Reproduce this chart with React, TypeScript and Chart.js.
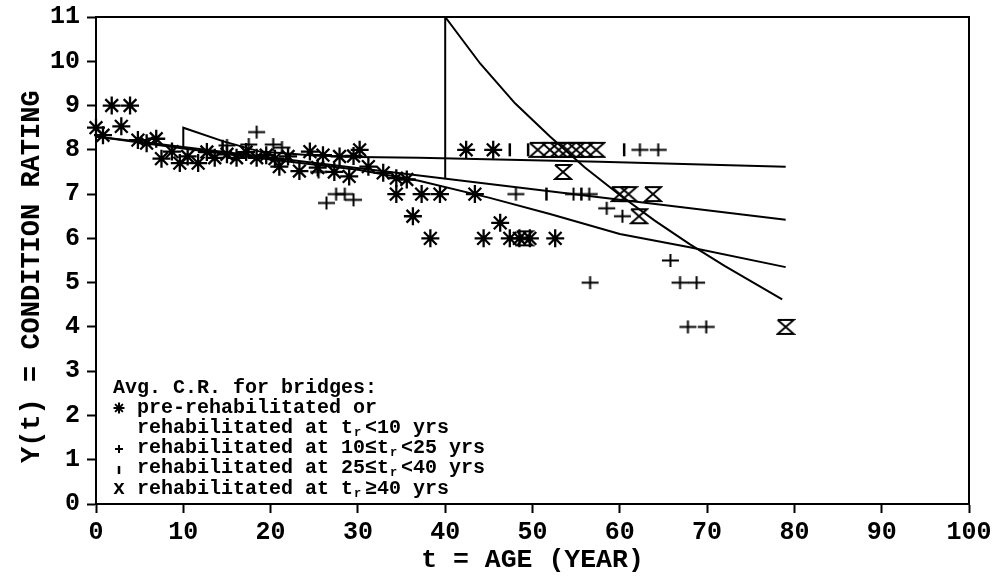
import React, { useEffect, useRef } from "react";
import { Chart, registerables } from "chart.js";

Chart.register(...registerables);

// ---- axis ranges / ticks ----
const xRange = [0, 100];
const xStep = 10;
const yRange = [0, 11];
const yStep = 1;

// ---- observed average condition ratings (age, rating) ----
const preRehabStars: [number, number][] = [
  [0, 8.5], [0.8, 8.33], [1.8, 9.0], [2.9, 8.53], [3.9, 9.0], [4.8, 8.22], [5.8, 8.15],
  [6.9, 8.25], [7.5, 7.8], [8.7, 7.96], [9.6, 7.7], [10.5, 7.85], [11.7, 7.7], [12.7, 7.95],
  [13.6, 7.82], [15, 7.9], [16.1, 7.82], [17.2, 7.95], [18.4, 7.82], [19.5, 7.88], [20.5, 7.8],
  [21, 7.62], [22, 7.85], [23.3, 7.52], [24.5, 7.96], [25.4, 7.6], [26, 7.88], [27.3, 7.5],
  [27.9, 7.85], [29, 7.4], [29.5, 7.86], [30.2, 8.0], [31.2, 7.62], [32.9, 7.48], [34.4, 7.36],
  [35.6, 7.33], [34.4, 7.0], [36.3, 6.5], [37.3, 7.0], [38.3, 6.0], [39.4, 7.0], [42.4, 8.0],
  [43.4, 7.0], [44.4, 6.0], [45.5, 8.0], [46.3, 6.35], [47.4, 6.0], [48.5, 6.0], [49.7, 6.0],
  [52.6, 6.0],
];
const rehab10to25Plus: [number, number][] = [
  [15, 8.1], [17.5, 8.12], [18.4, 8.4], [20.3, 8.12], [21.3, 8.05], [25.5, 7.5], [26.4, 6.8],
  [27.5, 7.0], [28.5, 7.0], [29.5, 6.87], [48.1, 7.0], [54.7, 7.0], [56.5, 7.0], [56.6, 5.0],
  [58.5, 6.68], [60.3, 6.5], [62.3, 8.0], [64.4, 8.0], [65.8, 5.5], [66.9, 5.0], [68.8, 5.0],
  [67.8, 4.0], [69.9, 4.0],
];
const rehab25to40Bars: [number, number][] = [
  [14.5, 8.08], [47.4, 8.0], [49.5, 8.0], [51.6, 7.0], [55.6, 7.0], [60.5, 8.0],
];
const rehab40Hourglass: [number, number][] = [
  [49.1, 6.0], [50.6, 8.0], [52, 8.0], [53, 8.0], [54, 8.0], [55, 8.0], [56, 8.0], [57.3, 8.0],
  [53.5, 7.5], [60, 7.0], [61, 7.0], [63.8, 7.0], [62.2, 6.5], [79, 4.0],
];

// ---- fitted curves ----
const curvePreRehab: [number, number][] = [
  [0, 8.3], [10, 8.03], [20, 7.78], [30, 7.55], [37, 7.3], [45, 6.92], [52, 6.55], [60, 6.1],
  [68, 5.8], [79, 5.35],
];
const curveMid: [number, number][] = [[0, 8.3], [79, 6.42]];
const curveRehab10: [number, number][] = [
  [10, 8.03], [10, 8.5], [14.6, 8.19], [18.8, 7.96], [25, 7.87], [30, 7.84], [37, 7.82],
  [57.7, 7.73], [79, 7.62],
];
const curveRehab40: [number, number][] = [
  [40, 7.35], [40, 11], [44, 9.95], [48, 9.05], [52, 8.3], [56, 7.6], [60, 6.98], [64, 6.4],
  [68, 5.87], [72, 5.38], [78.6, 4.62],
];

const xTitle = "t = AGE (YEAR)";
const yTitle = "Y(t) = CONDITION RATING  ";
const legendTitle = "Avg. C.R. for bridges:";
const legendRows: { sym: string; parts: string[] }[] = [
  { sym: "star", parts: ["pre-rehabilitated or"] },
  { sym: "", parts: ["rehabilitated at t", "r", "<10 yrs"] },
  { sym: "plus", parts: ["rehabilitated at 10\u2264t", "r", "<25 yrs"] },
  { sym: "bar", parts: ["rehabilitated at 25\u2264t", "r", "<40 yrs"] },
  { sym: "x", parts: ["rehabilitated at t", "r", "\u226540 yrs"] },
];

const FONT = '"Liberation Mono", "Courier New", monospace';

function toXY(a: [number, number][]) {
  return a.map(([x, y]) => ({ x, y }));
}

function makeCanvas(w: number, h: number, draw: (c: CanvasRenderingContext2D) => void) {
  const cv = document.createElement("canvas");
  cv.width = w;
  cv.height = h;
  const c = cv.getContext("2d")!;
  c.strokeStyle = "#000";
  c.lineWidth = 2;
  c.lineCap = "butt";
  draw(c);
  return cv;
}

const framePlugin = {
  id: "frameAndLegend",
  afterDraw(chart: any) {
    const { ctx, chartArea } = chart;
    const { left, top, right, bottom } = chartArea;
    ctx.save();
    ctx.strokeStyle = "#000";
    ctx.lineWidth = 2;
    ctx.strokeRect(left, top, right - left, bottom - top);

    // legend text block
    ctx.fillStyle = "#000";
    ctx.font = `bold 20px ${FONT}`;
    ctx.textBaseline = "middle";
    ctx.textAlign = "left";
    const cw = ctx.measureText("M").width;
    const x0 = left + 17;
    const rowsY = [bottom - 116, bottom - 96, bottom - 76, bottom - 56, bottom - 36, bottom - 15];
    ctx.fillText(legendTitle, x0, rowsY[0]);
    legendRows.forEach((row, i) => {
      const y = rowsY[i + 1];
      const sx = x0 + cw / 2;
      ctx.lineWidth = 2;
      if (row.sym === "star") {
        const r = 5.5;
        ctx.beginPath();
        for (let k = 0; k < 4; k++) {
          const a = (k * Math.PI) / 4;
          ctx.moveTo(sx - Math.cos(a) * r, y - Math.sin(a) * r);
          ctx.lineTo(sx + Math.cos(a) * r, y + Math.sin(a) * r);
        }
        ctx.stroke();
      } else if (row.sym === "plus") {
        ctx.beginPath();
        ctx.moveTo(sx - 4, y + 1);
        ctx.lineTo(sx + 4, y + 1);
        ctx.moveTo(sx, y - 3);
        ctx.lineTo(sx, y + 5);
        ctx.stroke();
      } else if (row.sym === "bar") {
        ctx.lineWidth = 2.5;
        ctx.beginPath();
        ctx.moveTo(sx, y - 2);
        ctx.lineTo(sx, y + 6);
        ctx.stroke();
      } else if (row.sym === "x") {
        ctx.font = `bold 20px ${FONT}`;
        ctx.fillText("x", x0, y);
      }
      let cx = x0 + 2 * cw;
      row.parts.forEach((p, j) => {
        if (j === 1) {
          ctx.font = `bold 12px ${FONT}`;
          ctx.fillText(p, cx + 1, y + 5);
          ctx.font = `bold 20px ${FONT}`;
          cx += cw;
        } else {
          ctx.fillText(p, cx, y);
          cx += cw * p.length;
        }
      });
    });
    ctx.restore();
  },
};

export default function App() {
  const ref = useRef<HTMLCanvasElement | null>(null);

  useEffect(() => {
    if (!ref.current) return;
    const plusImg = makeCanvas(19, 15, (c) => {
      c.beginPath();
      c.moveTo(1, 7.5);
      c.lineTo(18, 7.5);
      c.moveTo(9.5, 1);
      c.lineTo(9.5, 14);
      c.stroke();
    });
    const hourImg = makeCanvas(20, 18, (c) => {
      c.beginPath();
      c.moveTo(2, 2);
      c.lineTo(18, 2);
      c.lineTo(2, 16);
      c.lineTo(18, 16);
      c.lineTo(2, 2);
      c.stroke();
    });

    const lineDs = (data: [number, number][]) => ({
      data: toXY(data),
      showLine: true,
      borderColor: "#000",
      borderWidth: 2,
      pointRadius: 0,
      tension: 0,
      fill: false,
    });
    const markDs = (data: [number, number][], extra: any) => ({
      data: toXY(data),
      showLine: false,
      borderColor: "#000",
      backgroundColor: "#000",
      borderWidth: 2,
      clip: false,
      ...extra,
    });

    const tickFont = { family: FONT, size: 25, weight: "bold" as const };
    const yTickFont = { family: FONT, size: 25, weight: "bold" as const, lineHeight: 0.8 };
    const xTitleFont = { family: FONT, size: 26.5, weight: "bold" as const };
    const yTitleFont = { family: FONT, size: 27, weight: "bold" as const };

    const chart = new Chart(ref.current, {
      type: "scatter",
      data: {
        datasets: [
          lineDs(curvePreRehab),
          lineDs(curveMid),
          lineDs(curveRehab10),
          lineDs(curveRehab40),
          markDs(preRehabStars, { pointStyle: "star", pointRadius: 9, borderWidth: 2.3 }),
          markDs(rehab10to25Plus, { pointStyle: plusImg, pointRadius: 8 }),
          markDs(rehab25to40Bars, { pointStyle: "line", pointRotation: 90, pointRadius: 6.5, borderWidth: 2.5 }),
          markDs(rehab40Hourglass, { pointStyle: hourImg, pointRadius: 9 }),
        ] as any,
      },
      options: {
        responsive: false,
        animation: false,
        events: [],
        layout: { padding: { top: 17, right: 29, left: 0, bottom: 0 } },
        plugins: { legend: { display: false }, tooltip: { enabled: false } },
        scales: {
          x: {
            type: "linear",
            min: xRange[0],
            max: xRange[1],
            ticks: { stepSize: xStep, color: "#000", font: tickFont, padding: 5, maxRotation: 0 },
            grid: { drawOnChartArea: false, drawTicks: true, tickLength: 9, tickWidth: 2, tickColor: "#000" },
            border: { display: true, color: "#000", width: 2 },
            title: { display: true, text: xTitle, color: "#000", font: xTitleFont, padding: { top: 0, bottom: 1 } },
            afterFit: (s: any) => {
              s.height = 73;
            },
          },
          y: {
            type: "linear",
            min: yRange[0],
            max: yRange[1],
            ticks: { stepSize: yStep, color: "#000", font: yTickFont, padding: 7 },
            grid: { drawOnChartArea: false, drawTicks: true, tickLength: 9, tickWidth: 2, tickColor: "#000" },
            border: { display: true, color: "#000", width: 2 },
            title: { display: true, text: yTitle, color: "#000", font: yTitleFont, padding: { top: 16, bottom: 0 } },
            afterFit: (s: any) => {
              s.width = 96;
            },
          },
        },
      } as any,
      plugins: [framePlugin],
    });
    return () => chart.destroy();
  }, []);

  return (
    <div style={{ position: "absolute", left: 0, top: 0, width: 998, height: 577, background: "#fff" }}>
      <canvas ref={ref} width={998} height={577} style={{ display: "block" }} />
    </div>
  );
}
